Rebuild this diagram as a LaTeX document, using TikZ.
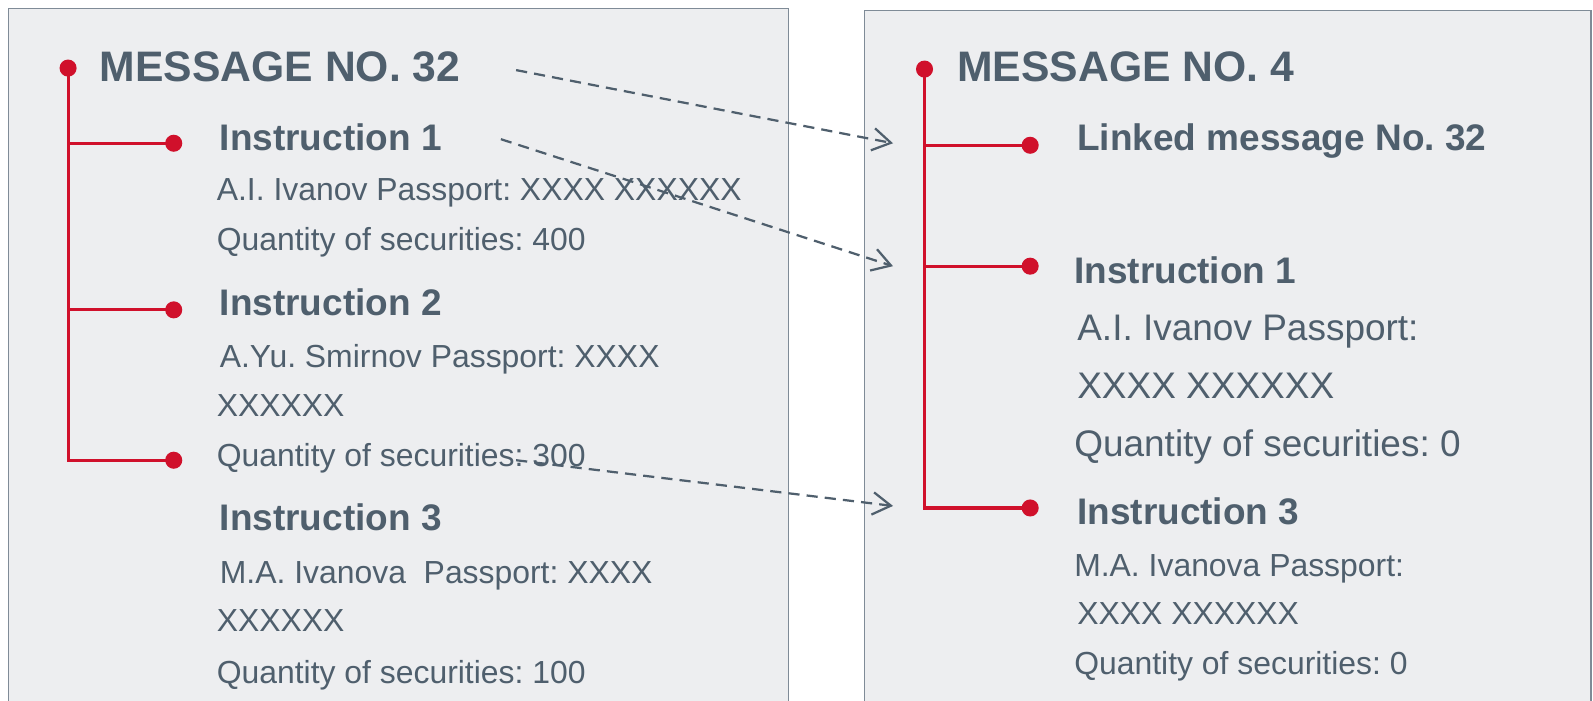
\documentclass[tikz,border=0pt]{standalone}
\usepackage{fontspec}
\setmainfont{Liberation Sans}
\usepackage{tikz}
\usetikzlibrary{arrows.meta}
\definecolor{slate}{HTML}{4F5F6D}
\definecolor{msgred}{HTML}{D0102B}
\definecolor{panel}{HTML}{EDEEF0}
\definecolor{frame}{HTML}{7F8B97}
\frenchspacing
\tikzset{
  txt/.style={anchor=base west,inner sep=0pt,text=slate,font=\fontsize{15.7}{18}\selectfont},
  bigtxt/.style={txt,font=\fontsize{18.2}{21}\selectfont},
  head/.style={txt,font=\bfseries\fontsize{21}{25}\selectfont},
  sub/.style={txt,font=\bfseries\fontsize{18.2}{21}\selectfont},
  dot/.style={circle,fill=msgred,inner sep=0pt,minimum size=8.4pt},
  tree/.style={msgred,line width=1.5pt},
  link/.style={slate,line width=1.1pt,dash pattern=on 5.5pt off 3.5pt,
    -{Straight Barb[length=9pt,width=11pt,line width=1.1pt]}}
}

\begin{document}
\begin{tikzpicture}[x=0.5pt,y=-0.5pt]
    \clip (0,0) rectangle (1568,690);
    \fill[white] (0,0) rectangle (1568,690);
    \draw[frame,fill=panel,line width=0.6pt] (8,8) rectangle (776,720);
    \draw[frame,fill=panel,line width=0.6pt] (851,10) rectangle (1566,720);

    % left message tree
    \node[dot] (lroot) at (67,67) {};
    \node[dot] (ld1) at (171,141) {};
    \node[dot] (ld2) at (171,305) {};
    \node[dot] (ld3) at (171,453) {};
    \draw[tree] (lroot.center) |- (ld3.center);
    \foreach \d in {ld1,ld2}
        \draw[tree] (lroot |- \d) -- (\d.center);

    \node[head] (lmsg) at (98,80) {MESSAGE NO. 32};
    \node[sub] (li1) at (216,148) {Instruction 1};
    \node[txt] (li1a) at (213,197.5) {A.I. Ivanov Passport: XXXX XXXXXX};
    \node[txt] (li1b) at (213,247) {Quantity of securities: 400};
    \node[sub] (li2) at (216,311) {Instruction 2};
    \node[txt] (li2a) at (216,361.5) {A.Yu. Smirnov Passport: XXXX};
    \node[txt] (li2b) at (213,410) {XXXXXX};
    \node[txt] (li2c) at (213,459.5) {Quantity of securities: 300};
    \node[sub] (li3) at (216,522.5) {Instruction 3};
    \node[txt] (li3a) at (216,574) {M.A. Ivanova\ \ Passport: XXXX};
    \node[txt] (li3b) at (213,621.5) {XXXXXX};
    \node[txt] (li3c) at (213,672.5) {Quantity of securities: 100};

    % right message tree
    \node[dot] (rroot) at (910,68) {};
    \node[dot] (rd1) at (1014,143) {};
    \node[dot] (rd2) at (1014,262) {};
    \node[dot] (rd3) at (1014,500) {};
    \draw[tree] (rroot.center) |- (rd3.center);
    \foreach \d in {rd1,rd2}
        \draw[tree] (rroot |- \d) -- (\d.center);

    \node[head] (rmsg) at (942,80) {MESSAGE NO. 4};
    \node[sub] (rlink) at (1060,148) {Linked message No. 32};
    \node[sub] (ri1) at (1057,279) {Instruction 1};
    \node[bigtxt] (ri1a) at (1060,335) {A.I. Ivanov Passport:};
    \node[bigtxt] (ri1b) at (1060,392.5) {XXXX XXXXXX};
    \node[bigtxt] (ri1c) at (1057,449.5) {Quantity of securities: 0};
    \node[sub] (ri3) at (1060,516.5) {Instruction 3};
    \node[txt] (ri3a) at (1057,567) {M.A. Ivanova Passport:};
    \node[txt] (ri3b) at (1060,615) {XXXX XXXXXX};
    \node[txt] (ri3c) at (1057,664) {Quantity of securities: 0};

    % links between the messages
    \coordinate (lk1) at (508,69);
    \coordinate (lk2) at (493,137);
    \coordinate (lk3) at (508,453);
    \coordinate (rk1) at (879,141);
    \coordinate (rk2) at (879,262);
    \coordinate (rk3) at (879,498);
    \foreach \i in {1,2,3}
        \draw[link] (lk\i) -- (rk\i);
\end{tikzpicture}
\end{document}
